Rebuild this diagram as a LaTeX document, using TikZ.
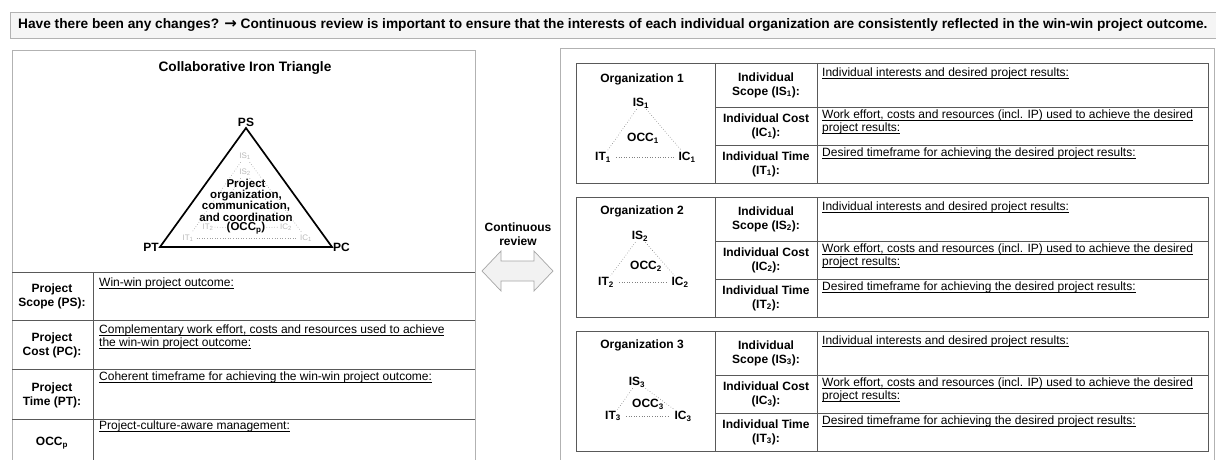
\documentclass[tikz,border=0pt]{standalone}
\usepackage{fontspec}
\setmainfont{Liberation Sans}
\newfontfamily\arrowfont{DejaVu Sans}
\usetikzlibrary{positioning}
\newcommand{\uln}[1]{\setbox0\hbox{#1}\rlap{\vrule width\wd0 height -1.4pt depth 2.1pt}\box0}

\begin{document}
\begin{tikzpicture}[x=1pt,y=-1pt,font=\fontsize{12}{14}\selectfont]
% ---- styles ----
\tikzstyle{frame}=[draw=gray!60,line width=0.9pt]
\tikzstyle{grid}=[draw=black!65,line width=0.7pt]
\tikzstyle{lbl}=[align=center,inner sep=1pt,font=\fontsize{12}{14}\selectfont\bfseries]
\tikzstyle{entry}=[anchor=north west,align=left,inner sep=0pt,
  font=\fontsize{12}{13}\selectfont]
\tikzstyle{corner}=[inner sep=1pt,font=\fontsize{12}{13}\selectfont\bfseries]
\tikzstyle{faint}=[inner sep=1pt,text=gray!55,font=\fontsize{8}{9}\selectfont]
\tikzstyle{dots}=[dotted,gray!75,line width=0.6pt]

\useasboundingbox (0,0) rectangle (1216,460);
\clip (0,0) rectangle (1216,460);

% ---- banner ----
\draw[frame,fill=gray!8] (10,12) rectangle (1225,38);
\node[anchor=west,inner sep=0pt,font=\fontsize{13.7}{15}\selectfont\bfseries] (head) at (18,25)
  {Have there been any changes? {\arrowfont\fontsize{15}{15}\selectfont →} Continuous review is important to ensure that the interests of each individual organization are consistently reflected in the win-win project outcome.};

% ---- left panel ----
\draw[frame] (12,50) rectangle (475,470);
\node[font=\fontsize{13.7}{15}\selectfont\bfseries] (title) at (245,68) {Collaborative Iron Triangle};

% iron triangle
\node[corner,anchor=south] (ps) at (246,128) {PS};
\node[corner,anchor=east] (pt) at (160,247) {PT};
\node[corner,anchor=west] (pc) at (332,247) {PC};
\draw[line width=1.7pt] (ps.south) -- (pt.east) -- (pc.west) -- cycle;

% faint individual triangles
\node[faint] (is1) at (245,156) {IS\textsubscript{1}};
\node[faint] (it1) at (188,238) {IT\textsubscript{1}};
\node[faint] (ic1) at (306,238) {IC\textsubscript{1}};
\node[faint] (is2) at (245,172) {IS\textsubscript{2}};
\node[faint] (it2) at (208,227) {IT\textsubscript{2}};
\node[faint] (ic2) at (286,227) {IC\textsubscript{2}};
\node[lbl,font=\fontsize{11.5}{11.3}\selectfont\bfseries] (occtxt) at (246,200)
  {Project\\organization,\\communication,\\and coordination};
\node[lbl,font=\fontsize{11.5}{11.3}\selectfont\bfseries] (occp) at (246,228) {(OCC\textsubscript{p})};
\draw[dots,shorten >=2pt,shorten <=2pt] (is1) -- (it1);
\draw[dots,shorten >=2pt,shorten <=2pt] (is1) -- (ic1);
\draw[dots,shorten >=2pt,shorten <=2pt] (it1) -- (ic1);
\draw[dots,shorten >=2pt,shorten <=2pt] (is2) -- (it2);
\draw[dots,shorten >=2pt,shorten <=2pt] (is2) -- (ic2);
\draw[dots] (it2) -- (occp);
\draw[dots] (occp) -- (ic2);

% project table
\draw[grid] (12,272) -- (475,272);
\draw[grid] (12,320) -- (475,320);
\draw[grid] (12,369) -- (475,369);
\draw[grid] (12,419) -- (475,419);
\draw[grid] (93,272) -- (93,470);
\node[lbl] (pscope) at (52,296) {Project\\Scope (PS):};
\node[lbl] (pcost) at (52,345) {Project\\Cost (PC):};
\node[lbl] (ptime) at (52,395) {Project\\Time (PT):};
\node[lbl] (pocc) at (52,443) {OCC\textsubscript{p}};
\node[entry] (pscopetxt) at (99,278) {\uln{Win-win project outcome:}};
\node[entry] (pcosttxt) at (99,325)
  {\uln{Complementary work effort, costs and resources used to achieve}\\
   \uln{the win-win project outcome:}};
\node[entry] (ptimetxt) at (99,372) {\uln{Coherent timeframe for achieving the win-win project outcome:}};
\node[entry] (pocctxt) at (99,421) {\uln{Project-culture-aware management:}};

% ---- review arrow ----
\node[lbl] (review) at (518,234) {Continuous\\review};
\draw[draw=gray!70,fill=gray!10,line width=0.7pt] (482,271) -- (501,251) -- (501,261)
  -- (534,261) -- (534,251) -- (553,271) -- (534,291) -- (534,281)
  -- (501,281) -- (501,291) -- cycle;

% ---- right panel ----
\draw[frame] (560,48) rectangle (1214,470);

\foreach \i/\t in {1/63,2/197,3/331} {
  \draw[grid] (576,\t) rectangle (1208,\t+120);
  \draw[grid] (715,\t) -- (715,\t+120);
  \draw[grid] (817,\t) -- (817,\t+120);
  \draw[grid] (715,\t+44) -- (1208,\t+44);
  \draw[grid] (715,\t+82) -- (1208,\t+82);
  \node[lbl] (scope\i) at (766,\t+22) {Individual\\Scope (IS\textsubscript{\i}):};
  \node[lbl] (cost\i) at (766,\t+63) {Individual Cost\\(IC\textsubscript{\i}):};
  \node[lbl] (time\i) at (766,\t+101) {Individual Time\\(IT\textsubscript{\i}):};
  \node[entry] (scopetxt\i) at (822,\t+5) {\uln{Individual interests and desired project results:}};
  \node[entry] (costtxt\i) at (822,\t+47)
    {\uln{Work effort, costs and resources (incl. IP) used to achieve the desired}\\
     \uln{project results:}};
  \node[entry] (timetxt\i) at (822,\t+85) {\uln{Desired timeframe for achieving the desired project results:}};
}

% organization 1
\node[lbl] (org1) at (642,79) {Organization 1};
\node[corner] (o1s) at (641,103) {IS\textsubscript{1}};
\node[corner] (o1occ) at (643,138) {OCC\textsubscript{1}};
\node[corner] (o1t) at (603,157) {IT\textsubscript{1}};
\node[corner] (o1c) at (687,157) {IC\textsubscript{1}};
\draw[dots,gray] (o1s) -- (o1t);
\draw[dots,gray] (o1s) -- (o1c);
\draw[dots,gray,shorten >=4pt,shorten <=4pt] (o1t) -- (o1c);

% organization 2
\node[lbl] (org2) at (642,211) {Organization 2};
\node[corner] (o2s) at (640,236) {IS\textsubscript{2}};
\node[corner] (o2occ) at (646,266) {OCC\textsubscript{2}};
\node[corner] (o2t) at (606,282) {IT\textsubscript{2}};
\node[corner] (o2c) at (680,282) {IC\textsubscript{2}};
\draw[dots,gray] (o2s) -- (o2t);
\draw[dots,gray] (o2s) -- (o2c);
\draw[dots,gray,shorten >=4pt,shorten <=4pt] (o2t) -- (o2c);

% organization 3
\node[lbl] (org3) at (642,345) {Organization 3};
\node[corner] (o3s) at (637,382) {IS\textsubscript{3}};
\node[corner] (o3occ) at (648,404) {OCC\textsubscript{3}};
\node[corner] (o3t) at (613,416) {IT\textsubscript{3}};
\node[corner] (o3c) at (683,416) {IC\textsubscript{3}};
\draw[dots,gray] (o3s) -- (o3t);
\draw[dots,gray] (o3s) -- (o3c);
\draw[dots,gray,shorten >=4pt,shorten <=4pt] (o3t) -- (o3c);

\end{tikzpicture}
\end{document}
